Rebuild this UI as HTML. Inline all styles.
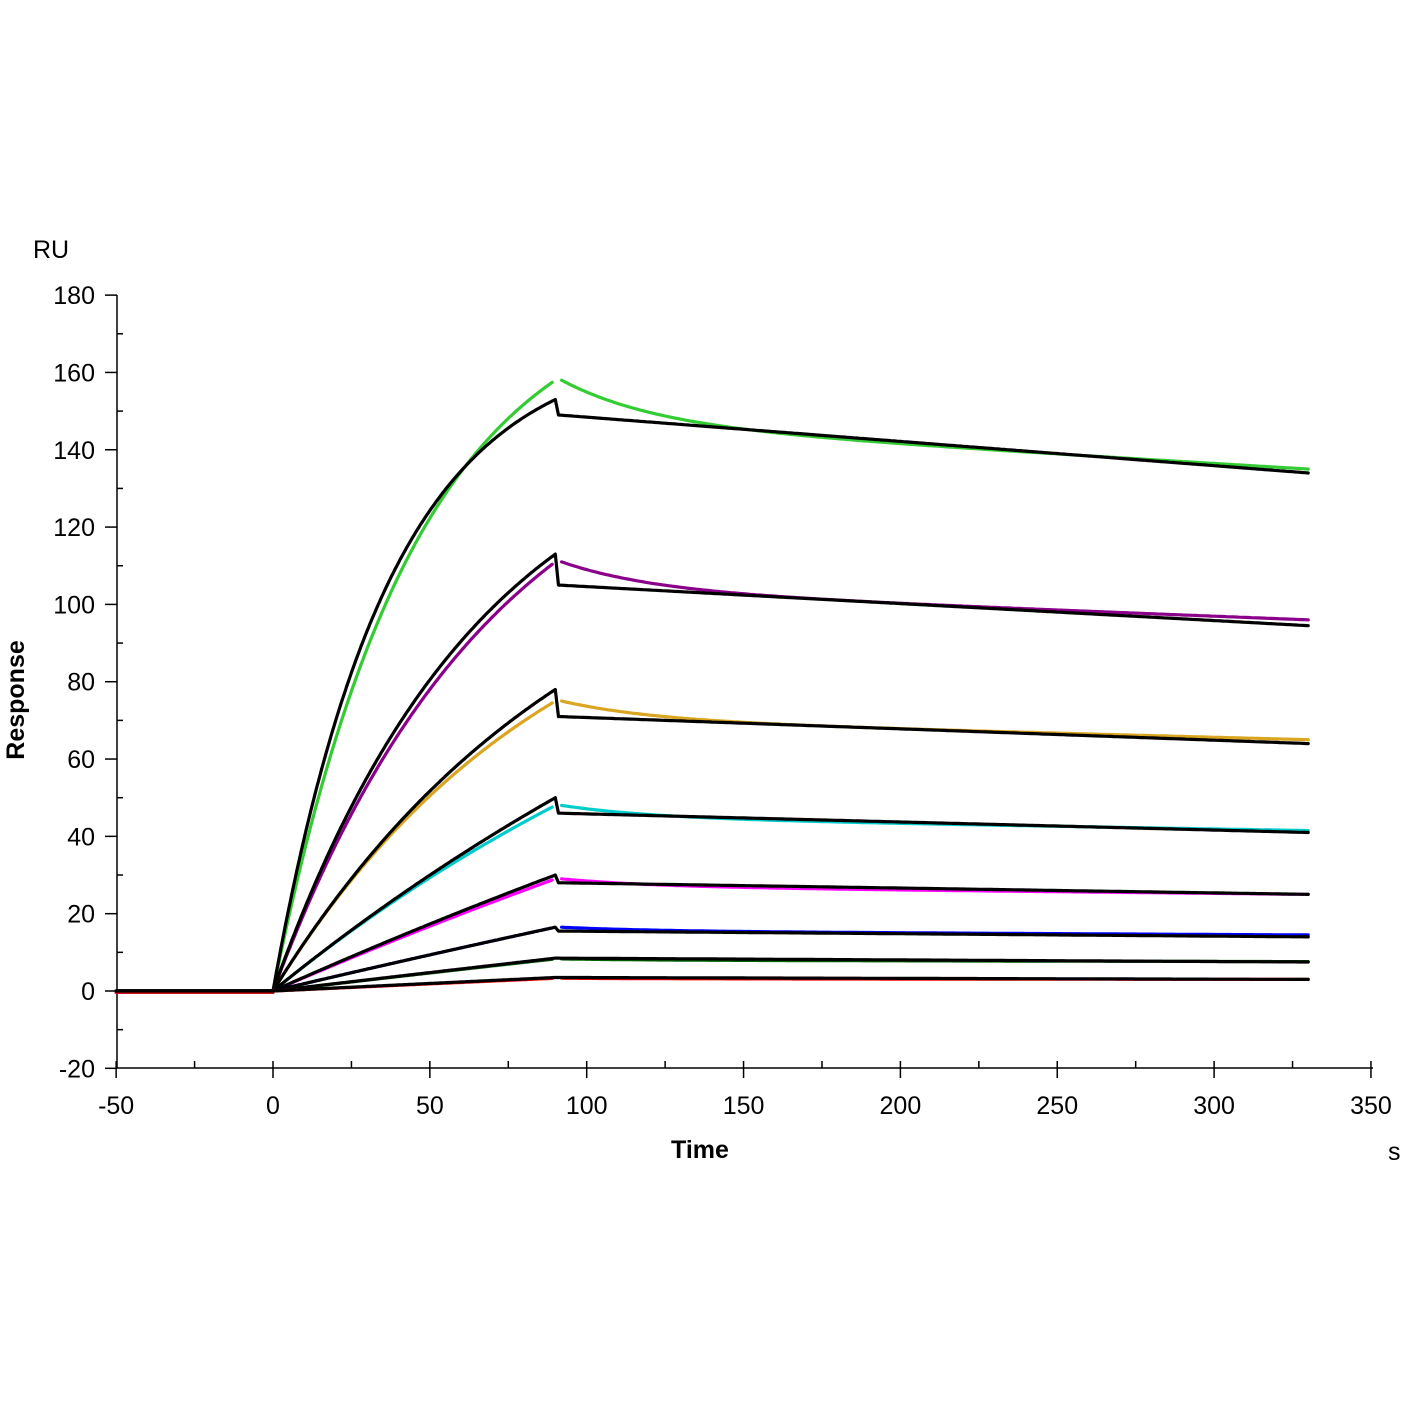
<!DOCTYPE html>
<html><head><meta charset="utf-8"><style>
html,body{margin:0;padding:0;background:#fff;}
svg{display:block;font-family:"Liberation Sans",sans-serif;}
</style></head><body>
<svg id="s" width="1401" height="1401" viewBox="0 0 1401 1401" xmlns="http://www.w3.org/2000/svg">
<rect width="1401" height="1401" fill="#fff"/>
<g id="axes" stroke="#000" stroke-width="1.5" fill="none">
<line x1="117" y1="295" x2="117" y2="1068"/>
<line x1="117" y1="1068" x2="1373" y2="1068"/>
</g>
<g id="ticks" stroke="#000" stroke-width="1.5"></g>
<g id="curves" fill="none" stroke-linejoin="round" stroke-linecap="round"></g>
<g font-size="25" fill="#000" text-anchor="end" id="ylab"></g>
<g font-size="25" fill="#000" text-anchor="middle" id="xlab"></g>
<text x="33" y="258" font-size="25">RU</text>
<text x="1388" y="1160" font-size="25">s</text>
<text x="700" y="1158" font-size="25" font-weight="bold" text-anchor="middle">Time</text>
<text transform="translate(24,700) rotate(-90)" font-size="25" font-weight="bold" text-anchor="middle">Response</text>
</svg>
<script>
const NS="http://www.w3.org/2000/svg";
const X=t=>273+3.137*t, Y=v=>991-3.866*v;
function el(p,n,a,txt){const e=document.createElementNS(NS,n);for(const k in a)e.setAttribute(k,a[k]);if(txt!==undefined)e.textContent=txt;document.getElementById(p).appendChild(e);}
for(let t=-50;t<=350;t+=25){const x=X(t);const maj=t%50==0;el("ticks","line",{x1:x,x2:x,y1:1061,y2:maj?1078:1068});if(maj)el("xlab","text",{x:x,y:1114},String(t));}
for(let v=-20;v<=180;v+=10){const y=Y(v);const maj=v%20==0;el("ticks","line",{x1:maj?105:117,x2:maj?117:123,y1:y,y2:y});if(maj)el("ylab","text",{x:95,y:y+9},String(v));}
const S=[
 ["#33cc33",153,149,134,0.027,158,135,0.022],
 ["#8b008b",113,105,94.5,0.015,111,96,0.014],
 ["#daa520",78,71,64,0.010,75,65,0.011],
 ["#00cccc",50,46,41,0.004,48,41.5,0.005],
 ["#ff00ff",30,28,25,0.002,29,25,0.002],
 ["#0000ff",16.5,15.5,14,0.001,16.5,14.5,0.001],
 ["#006400",8.5,8.5,7.5,0.0005,8.3,7.6,0.0005],
 ["#ff0000",3.5,3.5,3,0.0003,3.3,3,0.0003]];
function pts(fn,a,b,st){let d="";for(let t=a;t<=b+1e-9;t+=st){d+=(d?"L":"M")+X(t).toFixed(1)+","+Y(fn(t)).toFixed(1);}return d;}
for(const s of S){
 const [c,bp,bpost,be,k,cp,ce,ck]=s;
 const asc=(p,kk)=>t=>p*(1-Math.exp(-kk*t))/(1-Math.exp(-kk*90));
 const fc=asc(cp,ck);
 const tot=cp-ce, cc=tot*0.5, cb=tot*0.5;
 const dc=t=>ce+cb*(330-t)/238+cc*Math.exp(-(t-92)/30);
 el("curves","path",{d:"M"+X(-50)+","+Y(-0.3)+"L"+X(0)+","+Y(-0.3)+pts(fc,0,89,0.5).replace("M","L"),stroke:c,"stroke-width":3.2});
 el("curves","path",{d:pts(dc,92,330,1),stroke:c,"stroke-width":3.2});
 const fb=asc(bp,k);
 const db=t=>be+(bpost-be)*(330-t)/239;
 el("curves","path",{d:"M"+X(-50)+","+Y(0)+"L"+X(0)+","+Y(0)+pts(fb,0.5,90,0.5).replace("M","L")+"L"+X(91)+","+Y(bpost)+pts(db,91,330,1).replace("M","L"),stroke:"#000","stroke-width":3.2});
}
</script>
</body></html>
